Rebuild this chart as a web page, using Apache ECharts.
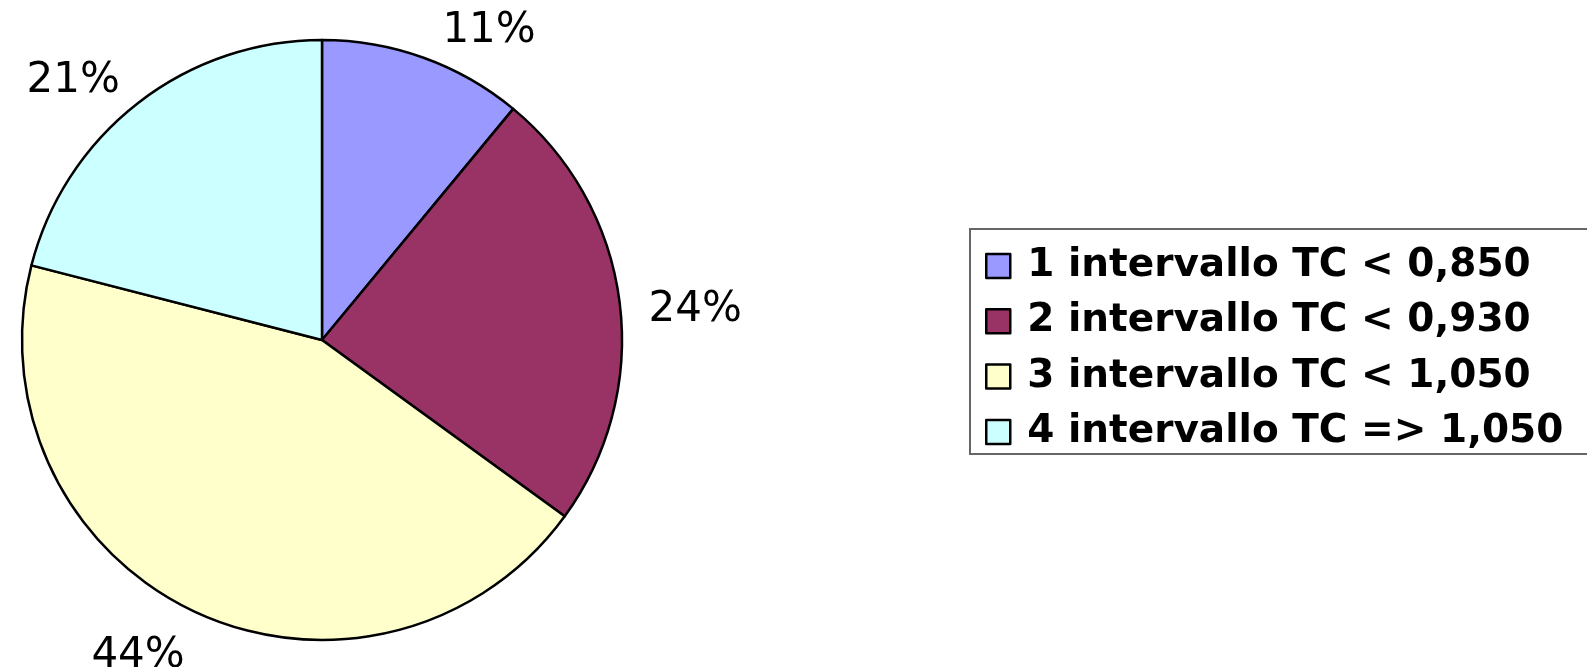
<!DOCTYPE html>
<html>
<head>
<meta charset="utf-8">
<script src="https://cdn.jsdelivr.net/npm/echarts@6/dist/echarts.min.js"></script>
<style>
  html, body { margin: 0; padding: 0; background: #fff; }
  #chart { width: 1587px; height: 667px; }
</style>
</head>
<body>
<div id="chart"></div>
<script>
const categories = ['1 intervallo TC < 0,850', '2 intervallo TC < 0,930', '3 intervallo TC < 1,050', '4 intervallo TC => 1,050'];
const shares = [11, 24, 44, 21];
const colors = ['#9999FF', '#993366', '#FFFFCC', '#CCFFFF'];
// nudges so the % labels sit where Excel put them
const labelNudge = [[7, -8], [4, 10], [4, 27], [-1, -6]];

const chart = echarts.init(document.getElementById('chart'), null, { renderer: 'canvas' });

let option = {
  backgroundColor: '#ffffff',
  color: colors,
  animation: false,
  legend: {
    orient: 'vertical',
    left: 970,
    top: 229,
    padding: [17, 80, 2, 15],
    borderColor: '#666666',
    borderWidth: 2,
    itemWidth: 24,
    itemHeight: 24,
    itemGap: 15.3,
    icon: 'rect',
    itemStyle: { borderColor: '#000', borderWidth: 2.5 },
    textStyle: {
      fontFamily: 'DejaVu Sans',
      fontWeight: 'bold',
      fontSize: 39,
      lineHeight: 40,
      padding: [0, 0, 0, 12],
      color: '#000'
    },
    data: categories
  },
  series: [
    {
      type: 'pie',
      center: [322, 340],
      radius: 300,
      startAngle: 90,
      clockwise: true,
      avoidLabelOverlap: false,
      label: {
        show: true,
        position: 'outside',
        formatter: '{d}%',
        fontFamily: 'DejaVu Sans',
        fontSize: 42,
        color: '#000'
      },
      labelLine: { show: false, length: 20, length2: 0 },
      itemStyle: { borderColor: '#000', borderWidth: 2.5 },
      emphasis: { disabled: true },
      data: categories.map((name, i) => ({
        name: name,
        value: shares[i],
        label: { offset: labelNudge[i] }
      }))
    }
  ]
};
chart.setOption(option);
</script>
</body>
</html>
